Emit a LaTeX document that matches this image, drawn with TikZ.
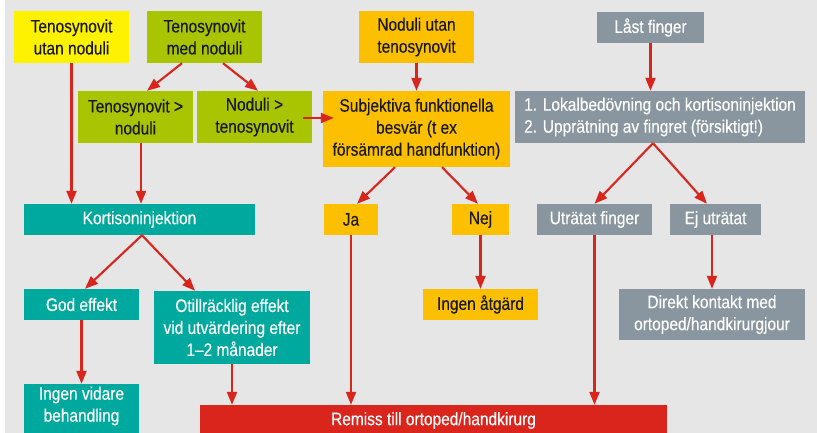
\documentclass[tikz,border=0pt]{standalone}
\usepackage{fontspec}
\setmainfont{Liberation Sans}[FakeStretch=0.86,FakeBold=0.35]
\usetikzlibrary{arrows.meta,calc}
\definecolor{bg}{HTML}{E6E6E6}
\definecolor{cyel}{HTML}{FFF200}
\definecolor{cgrn}{HTML}{A9C400}
\definecolor{corg}{HTML}{FCC000}
\definecolor{cteal}{HTML}{00A99D}
\definecolor{cgray}{HTML}{8996A0}
\definecolor{cred}{HTML}{DA251D}
\begin{document}
\begin{tikzpicture}[x=1pt,y=-1pt,
  box/.style={inner sep=0pt, align=center, font=\fontsize{18}{22}\selectfont},
  dark/.style={box, text=black!90},
  light/.style={box, text=white},
  wh/.style 2 args={minimum width=#1, minimum height=#2},
  arr/.style={draw=cred, line width=2.1pt, -{Triangle[length=13pt,width=10pt]}}]
\path[use as bounding box] (0,0) rectangle (817,433);
\clip (0,0) rectangle (817,433);
\fill[white] (0,0) rectangle (817,433);
\fill[bg] (5,0) rectangle (817,433);

\node[dark, fill=cyel, wh={115}{52}] (tun) at (71.5,37) {Tenosynovit\\utan noduli};
\node[dark, fill=cgrn, wh={115}{52}] (tmn) at (204.5,37) {Tenosynovit\\med noduli};
\node[dark, fill=cgrn, wh={115}{52}] (tgn) at (135.5,117) {Tenosynovit >\\noduli};
\node[dark, fill=cgrn, wh={115}{52}] (ngt) at (254.5,117) {Noduli >\\tenosynovit};
\node[dark, fill=corg, wh={115}{52}] (nut) at (416.5,37) {Noduli utan\\tenosynovit};
\node[dark, fill=corg, wh={187}{76}] (subj) at (416.5,129) {Subjektiva funktionella\\besvär (t ex\\försämrad handfunktion)};
\node[light, fill=cgray, wh={107}{31}] (last) at (650.5,27.5) {Låst finger};
\node[light, fill=cgray, wh={290}{52}, align=left] (lok) at (660,117) {1. Lokalbedövning och kortisoninjektion\\2. Upprätning av fingret (försiktigt!)};
\node[light, fill=cteal, wh={231}{31}] (kort) at (139.5,219.5) {Kortisoninjektion};
\node[dark, fill=corg, wh={54}{31}] (ja) at (351,219.5) {Ja};
\node[dark, fill=corg, wh={57}{31}] (nej) at (480.5,219.5) {Nej};
\node[light, fill=cgray, wh={115}{31}] (utr) at (594.5,219.5) {Uträtat finger};
\node[light, fill=cgray, wh={91}{31}] (ej) at (715.5,219.5) {Ej uträtat};
\node[light, fill=cteal, wh={115}{31}] (god) at (81.5,304.5) {God effekt};
\node[light, fill=cteal, wh={156}{73}] (otill) at (232,327.5) {Otillräcklig effekt\\vid utvärdering efter\\1–2 månader};
\node[dark, fill=corg, wh={115}{31}] (ingen) at (480.5,304.5) {Ingen åtgärd};
\node[light, fill=cgray, wh={186}{51}] (direkt) at (712,314.5) {Direkt kontakt med\\ortoped/handkirurgjour};
\fill[cteal] (24,420) rectangle (139,440);
\node[light, fill=cteal, wh={115}{44}] (ingvid) at (81.5,406) {Ingen vidare\\behandling};
\node[light, fill=cred, wh={467}{31}] (remiss) at (433.5,420.5) {Remiss till ortoped/handkirurg};

\draw[arr] (tun.south) -- (tun.south |- kort.north);
\draw[arr] ($(tgn.south)+(5.5,0)$) -- ($(tgn.south |- kort.north)+(5.5,0)$);
\draw[arr] ($(tmn.south)+(-22.5,0)$) -- ($(tgn.north)+(11.5,0)$);
\draw[arr] ($(tmn.south)+(18.5,0)$) -- ($(ngt.north)+(3.5,0)$);
\draw[arr] ($(ngt.east)+(-9,1)$) -- ($(ngt.east -| subj.west)+(11,1)$);
\draw[arr] (nut.south) -- (nut.south |- subj.north);
\draw[arr] (last.south) -- (last.south |- lok.north);
\draw[arr] ($(subj.south)+(-21.5,0)$) -- ($(ja.north)+(6,0)$);
\draw[arr] ($(subj.south)+(25.5,0)$) -- ($(nej.north)+(-2.5,0)$);
\draw[arr] ($(lok.south)+(-7,0)$) -- (utr.north);
\draw[arr] ($(lok.south)+(-7,0)$) -- ($(ej.north)+(-8.5,0)$);
\draw[arr] ($(kort.south)+(2.5,0)$) -- ($(god.north)+(3.5,0)$);
\draw[arr] ($(kort.south)+(2.5,0)$) -- ($(otill.north)+(-37,0)$);
\draw[arr] (god.south) -- (god.south |- ingvid.north);
\draw[arr] (otill.south) -- (otill.south |- remiss.north);
\draw[arr] (ja.south) -- (ja.south |- remiss.north);
\draw[arr] (utr.south) -- (utr.south |- remiss.north);
\draw[arr] (nej.south) -- (nej.south |- ingen.north);
\draw[arr] (direkt.north |- ej.south) -- (direkt.north);
\end{tikzpicture}
\end{document}
